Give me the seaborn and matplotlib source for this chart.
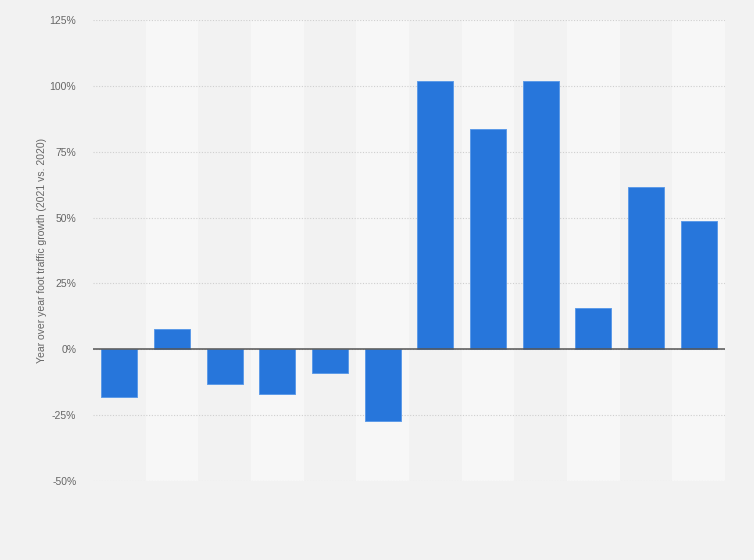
import pandas as pd
import matplotlib
matplotlib.use("Agg")
import matplotlib.pyplot as plt
import seaborn as sns
from matplotlib.ticker import FuncFormatter

# datos (crecimiento interanual en %)
categorias = ["c1", "c2", "c3", "c4", "c5", "c6", "c7", "c8", "c9", "c10", "c11", "c12"]
crecimiento = [-18.2, 7.7, -13.2, -17.0, -8.9, -27.3, 101.9, 83.7, 101.9, 15.6, 61.6, 48.7]
ticks_y = [-50, -25, 0, 25, 50, 75, 100, 125]

df = pd.DataFrame({"cat": categorias, "valor": crecimiento})

sns.set_theme(style="white")
plt.rcParams["font.family"] = ["Liberation Sans", "DejaVu Sans"]

fig = plt.figure(figsize=(7.54, 5.60), dpi=100, facecolor="#f2f2f2")
ax = fig.add_axes([0.1233, 0.1411, 0.8382, 0.8232])
ax.set_facecolor("#f2f2f2")

# bandas alternas de fondo
for i in range(len(categorias)):
    if i % 2 == 1:
        ax.axvspan(i - 0.5, i + 0.5, color="#f7f7f7", zorder=0, lw=0)

sns.barplot(data=df, x="cat", y="valor", order=categorias, color="#2776db",
            saturation=1, width=0.68, edgecolor="#5d9be8", linewidth=0.7,
            ax=ax, zorder=3)

ax.set_xlim(-0.5, len(categorias) - 0.5)
ax.set_ylim(-50, 125)
ax.set_yticks(ticks_y)
ax.yaxis.set_major_formatter(FuncFormatter(lambda v, p: f"{v:.0f}%"))
ax.grid(axis="y", color="#cfcfcf", linestyle=(0, (1, 1.5)), linewidth=0.8, zorder=1)
ax.axhline(0, color="#555555", linewidth=1.1, zorder=4)

ax.set_xticks([])
ax.set_xlabel("")
ax.set_ylabel("Year over year foot traffic growth (2021 vs. 2020)", fontsize=7.5,
              color="#666666", labelpad=2)
ax.tick_params(axis="y", labelsize=7.5, labelcolor="#666666", length=0, pad=12)
for s in ax.spines.values():
    s.set_visible(False)

fig.savefig("out.png", dpi=100, facecolor=fig.get_facecolor())
